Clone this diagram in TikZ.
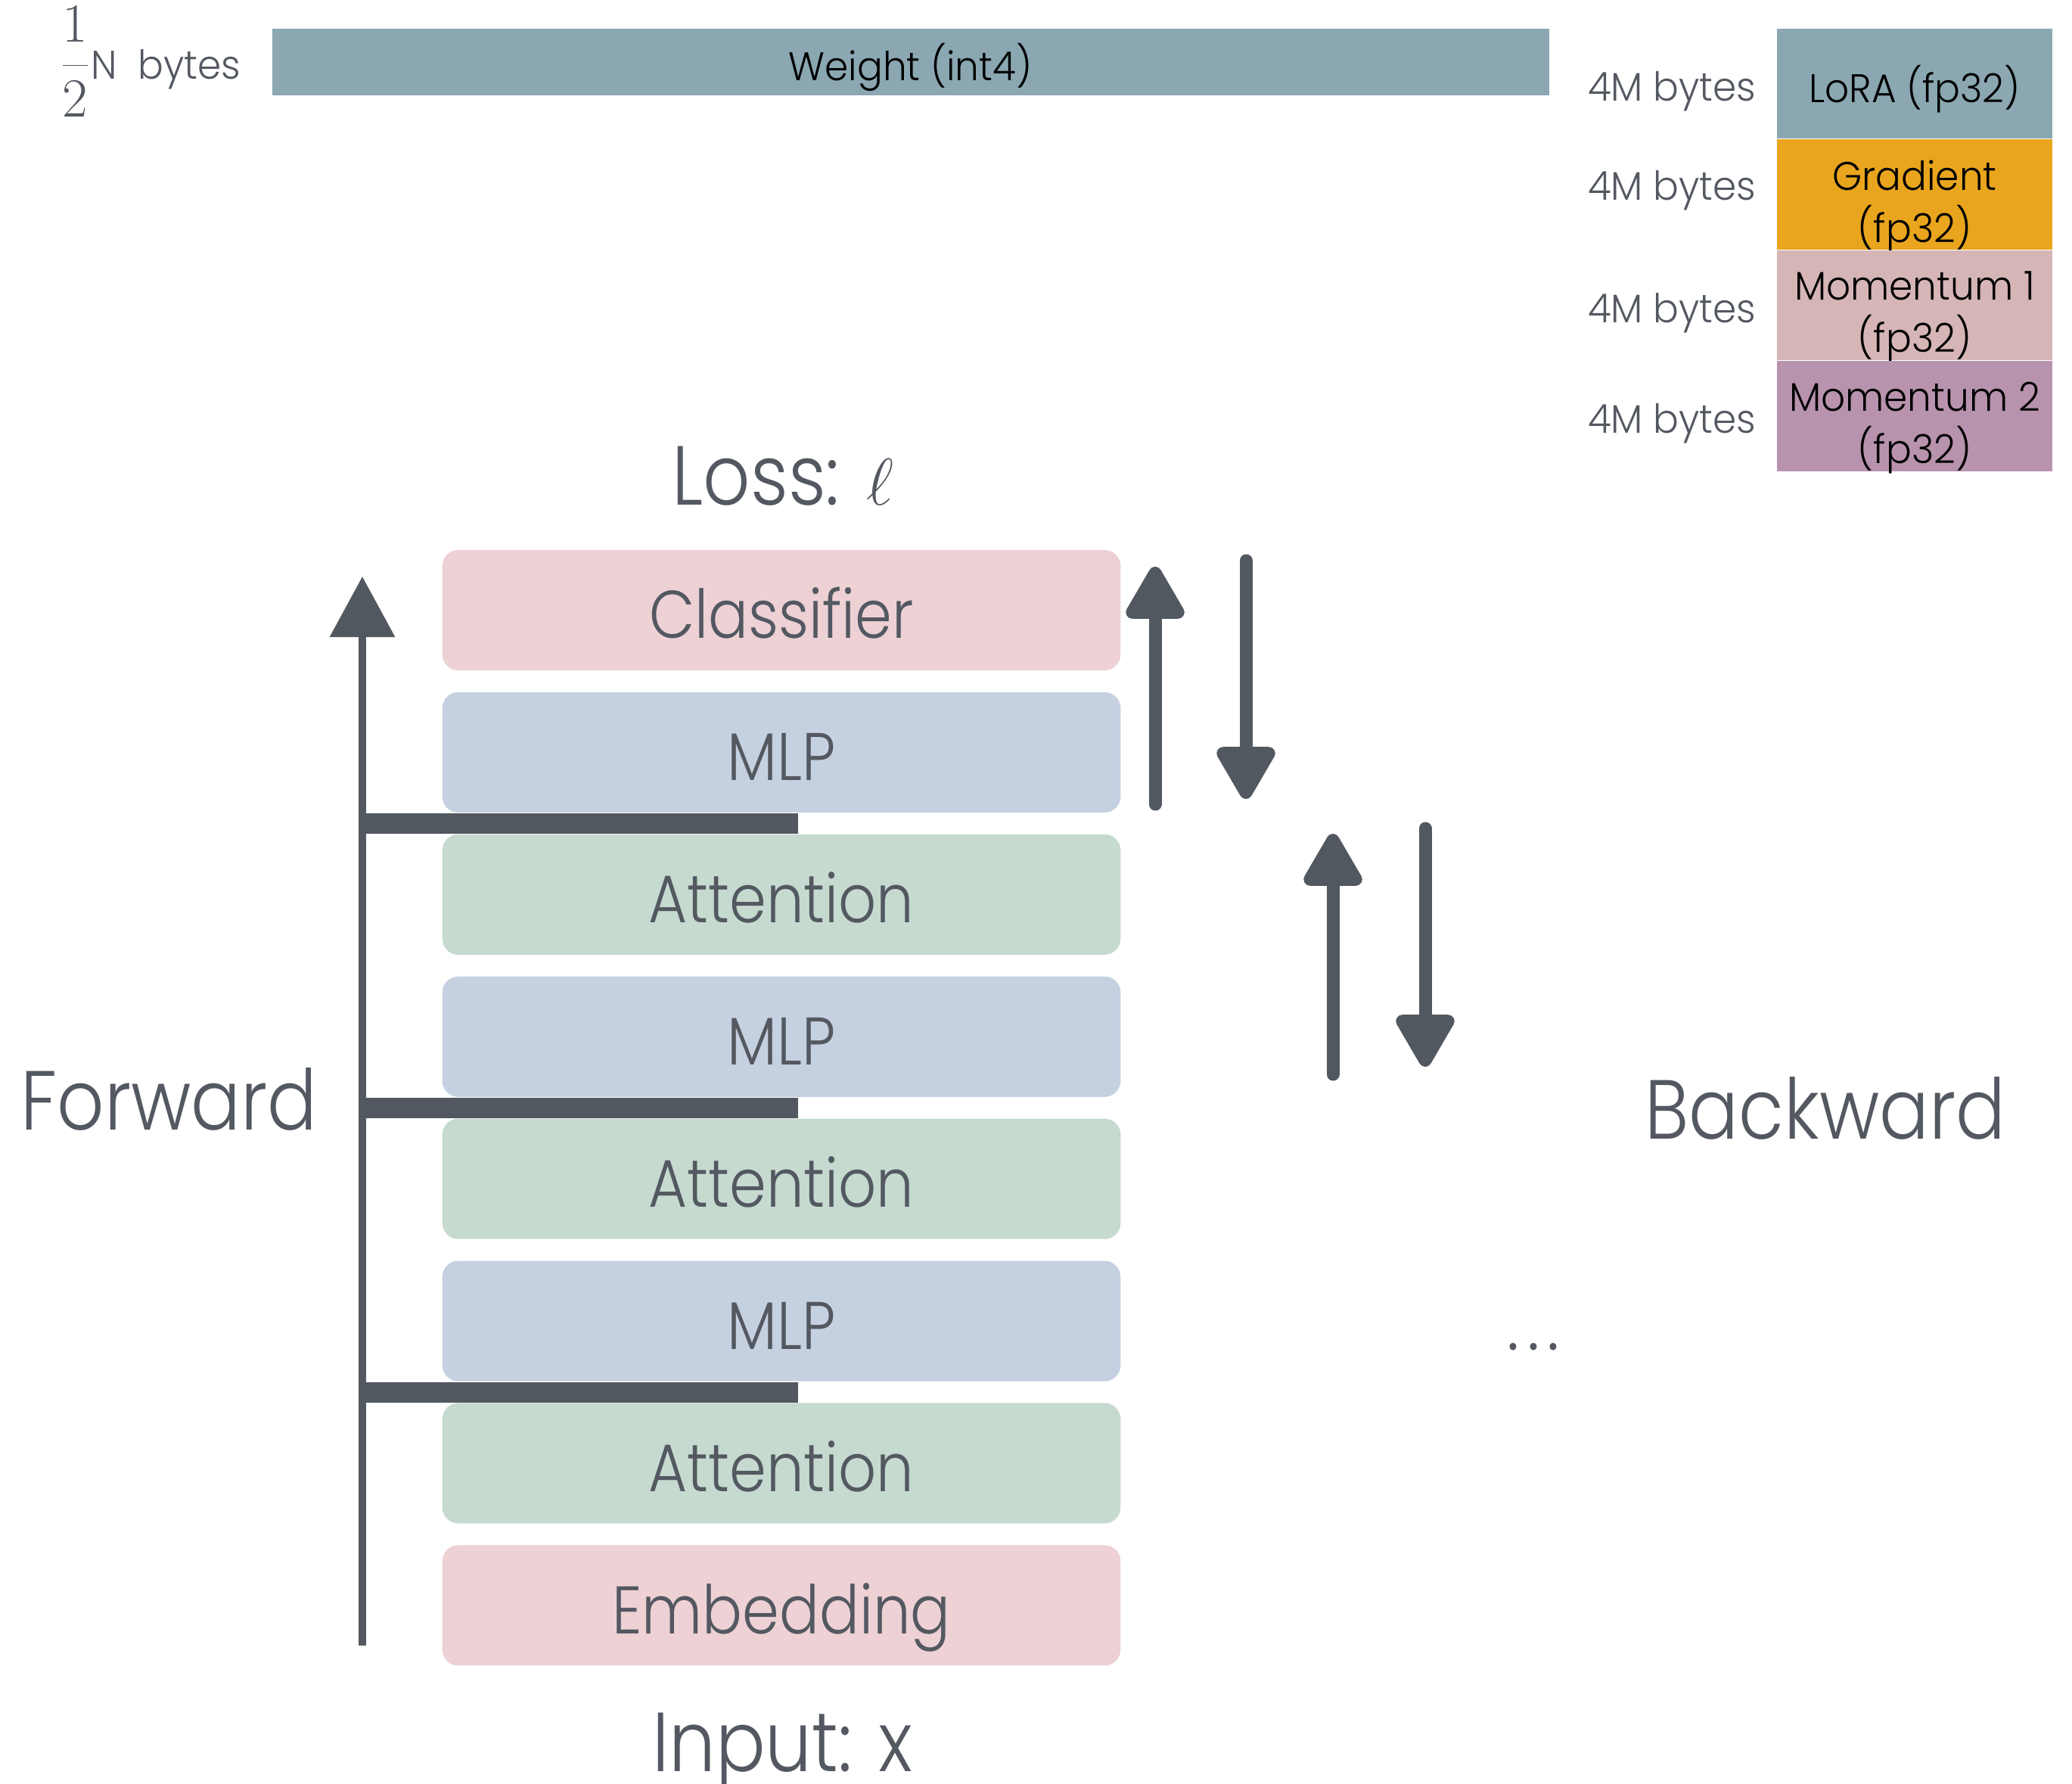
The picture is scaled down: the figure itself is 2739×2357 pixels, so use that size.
\documentclass[tikz,border=0pt]{standalone}
\usepackage{fontspec}
\setmainfont{Poppins}[UprightFont=* Light, FakeStretch=0.95]
\newfontfamily\bigfont{Poppins}[UprightFont=* Light, FakeStretch=0.88]
\usetikzlibrary{positioning, arrows.meta, calc}

\definecolor{slate}{HTML}{8AA7B2}
\definecolor{gradorange}{HTML}{E9A51D}
\definecolor{momone}{HTML}{D5B5B6}
\definecolor{momtwo}{HTML}{B893AE}
\definecolor{headpink}{HTML}{EDD1D4}
\definecolor{mlpblue}{HTML}{C5D1E1}
\definecolor{attgreen}{HTML}{C6DACF}
\definecolor{txtgray}{HTML}{535861}
\definecolor{arrowgray}{HTML}{525860}

\begin{document}
\begin{tikzpicture}[
    x=0.01cm, y=-0.01cm,
    node distance=0.274cm and 0.26cm,
    layer/.style={rectangle, rounded corners=0.21cm, minimum width=8.96cm, minimum height=1.59cm, inner sep=0pt, text height=21.3pt, text depth=0pt, text=txtgray, font=\bigfont\fontsize{25.3}{30}\selectfont},
    mem/.style={rectangle, minimum width=3.64cm, minimum height=1.45cm, inner sep=0pt, text height=14.2pt, text depth=0pt, font=\fontsize{15}{19.6}\selectfont},
    memtext/.style={inner sep=0pt, align=center, yshift=-4.5pt, font=\fontsize{15}{19.6}\selectfont},
    size/.style={inner sep=0pt, text height=13pt, text depth=0pt, text=txtgray, font=\fontsize{15}{18}\selectfont},
    big/.style={inner sep=0pt, text height=22pt, text depth=0pt, text=txtgray, font=\bigfont\fontsize{31.5}{36}\selectfont},
    fwd/.style={draw=arrowgray, line width=0.1cm, -{Triangle[length=0.8cm, width=0.84cm]}},
    bwd/.style={draw=arrowgray, line width=0.17cm, line cap=round, -{Triangle[length=0.78cm, width=0.85cm, round]}},
    resbar/.style={draw=arrowgray, line width=0.27cm}
]
\useasboundingbox (0,0) rectangle (2739,2357);

% Memory
\node[mem, minimum width=16.87cm, minimum height=0.88cm, fill=slate] (weight) at (1203.5,82) {Weight (int4)};
\node[size, left=0.4cm of weight] (wsize) {{\fontsize{20}{22}\selectfont$\displaystyle\frac{1}{2}$}N~~bytes};

\node[mem, fill=slate] (lora) at (2531,110.5) {LoRA (fp32)};
\node[mem, fill=gradorange, below=0cm of lora, label={[memtext]center:Gradient\\(fp32)}] (grad) {};
\node[mem, fill=momone, below=0cm of grad, label={[memtext]center:Momentum 1\\(fp32)}] (momA) {};
\node[mem, fill=momtwo, below=0cm of momA, label={[memtext]center:Momentum 2\\(fp32)}] (momB) {};
\foreach \m/\dy in {lora/0, grad/4.5, momA/0, momB/0}
    \node[size, left=of \m, yshift=\dy pt] {4M bytes};

% Layers
\node[layer, fill=headpink] (classifier) at (1033,806.5) {Classifier};
\node[layer, fill=mlpblue, below=of classifier] (mlpA) {MLP};
\node[layer, fill=attgreen, below=of mlpA] (attA) {Attention};
\node[layer, fill=mlpblue, below=of attA] (mlpB) {MLP};
\node[layer, fill=attgreen, below=of mlpB] (attB) {Attention};
\node[layer, fill=mlpblue, below=of attB] (mlpC) {MLP};
\node[layer, fill=attgreen, below=of mlpC] (attC) {Attention};
\node[layer, fill=headpink, below=of attC] (embedding) {Embedding};

\node[big] (loss) at (1035,628.5) {Loss: $\ell$};
\node[big] (input) at (1034.5,2303) {Input: x};
\node[big] (forward) at (223.5,1454.5) {Forward};
\node[big] (backward) at (2413,1467) {Backward};
\node[inner sep=0pt, text=txtgray, font=\fontsize{26}{28}\selectfont] (dots) at (2027,1780) {.\hspace{3pt}.\hspace{3pt}.};

% Forward
\coordinate (fwdstart) at (479,2175);
\coordinate (fwdend) at (479,762);
\foreach \a/\b in {mlpA/attA, mlpB/attB, mlpC/attC} {
    \coordinate (gap) at ($(\a.south)!0.5!(\b.north)$);
    \draw[resbar] ($(fwdstart |- gap)+(-5,0)$) -- ($(gap)+(22,0)$);
}
\draw[fwd] (fwdstart) -- (fwdend);

% Backward
\coordinate (upA) at (1527,1063);
\coordinate (downA) at (1647,741);
\coordinate (upB) at (1762,1420);
\coordinate (downB) at (1884,1095);
\draw[bwd] (upA) -- (upA |- 0,749);
\draw[bwd] (downA) -- (downA |- 0,1056);
\draw[bwd] (upB) -- (upB |- 0,1102);
\draw[bwd] (downB) -- (downB |- 0,1410);

\end{tikzpicture}
\end{document}
